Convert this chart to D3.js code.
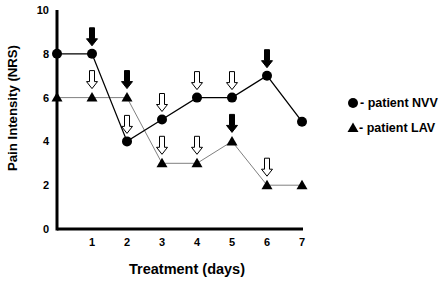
<!DOCTYPE html>
<html><head><meta charset="utf-8">
<script src="https://cdn.jsdelivr.net/npm/d3@7"></script>
<style>body{margin:0;background:#fff}svg{display:block}text{font-family:"Liberation Sans",Arial,sans-serif;fill:#000}</style>
</head><body><svg id="c" width="448" height="284"></svg>
<script>
const days = [0,1,2,3,4,5,6,7];
const nvv = [8,8,4,5,6,6,7,4.9];
const lav = [6,6,6,3,3,4,2,2];
const xTicks = [1,2,3,4,5,6,7];
const yTicks = [0,2,4,6,8,10];
const nvvFilledArrowDays = [1,6];
const nvvOpenArrowDays = [2,3,4,5];
const lavFilledArrowDays = [2,5];
const lavOpenArrowDays = [1,3,4,6];

const svg = d3.select("#c");
const x = d3.scaleLinear().domain([0,7]).range([57,302]);
const y = d3.scaleLinear().domain([0,10]).range([229,10]);

// axes lines
svg.append("line").attr("x1",x(0)).attr("x2",x(7)+1).attr("y1",y(0)).attr("y2",y(0)).attr("stroke","#000").attr("stroke-width",3);
svg.append("line").attr("x1",x(0)).attr("x2",x(0)).attr("y1",y(10)).attr("y2",y(0)+1.5).attr("stroke","#000").attr("stroke-width",3);

// tick labels
svg.selectAll(".yt").data(yTicks).enter().append("text")
  .attr("x",49).attr("y",d=>y(d)+4).attr("text-anchor","end")
  .attr("font-size",11).attr("font-weight","bold").text(d=>d);
svg.selectAll(".xt").data(xTicks).enter().append("text")
  .attr("x",d=>x(d)).attr("y",246).attr("text-anchor","middle")
  .attr("font-size",11).attr("font-weight","bold").text(d=>d);

// titles
svg.append("text").attr("transform","translate(17,108) rotate(-90)").attr("text-anchor","middle")
  .attr("font-size",13.2).attr("font-weight","bold").text("Pain Intensity (NRS)");
svg.append("text").attr("x",187).attr("y",274).attr("text-anchor","middle")
  .attr("font-size",14.5).attr("font-weight","bold").text("Treatment (days)");

// lines
const line = d3.line().x((d,i)=>x(days[i])).y(d=>y(d));
svg.append("path").attr("d",line(lav)).attr("fill","none").attr("stroke","#808080").attr("stroke-width",1);
svg.append("path").attr("d",line(nvv)).attr("fill","none").attr("stroke","#000").attr("stroke-width",1.3);

// markers
const tri = "M0,-5.5L5.5,4L-5.5,4Z";
svg.selectAll(".lav").data(lav).enter().append("path")
  .attr("transform",(d,i)=>`translate(${x(days[i])},${y(d)})`).attr("d",tri).attr("fill","#000");
svg.selectAll(".nvv").data(nvv).enter().append("circle")
  .attr("cx",(d,i)=>x(days[i])).attr("cy",d=>y(d)).attr("r",5).attr("fill","#000");

// arrows
const arrow = "M-2.5,-26L2.5,-26L2.5,-15L5.5,-15L0,-8L-5.5,-15L-2.5,-15Z";
function arrows(dayList, series, filled, off){
  svg.selectAll(null).data(dayList).enter().append("path")
    .attr("transform",d=>`translate(${x(d)},${y(series[days.indexOf(d)])+off})`)
    .attr("d",arrow).attr("fill",filled?"#000":"#fff").attr("stroke","#000").attr("stroke-width",1);
}
arrows(nvvFilledArrowDays,nvv,true,0);
arrows(nvvOpenArrowDays,nvv,false,0);
arrows(lavFilledArrowDays,lav,true,-1);
arrows(lavOpenArrowDays,lav,false,-1);

// legend
svg.append("circle").attr("cx",353).attr("cy",103).attr("r",5).attr("fill","#000");
svg.append("text").attr("x",360).attr("y",107).attr("font-size",12.5).attr("font-weight","bold").text("- patient NVV");
svg.append("path").attr("transform","translate(353,128)").attr("d",tri).attr("fill","#000");
svg.append("text").attr("x",359).attr("y",132).attr("font-size",12.5).attr("font-weight","bold").text("- patient LAV");
</script></body></html>
